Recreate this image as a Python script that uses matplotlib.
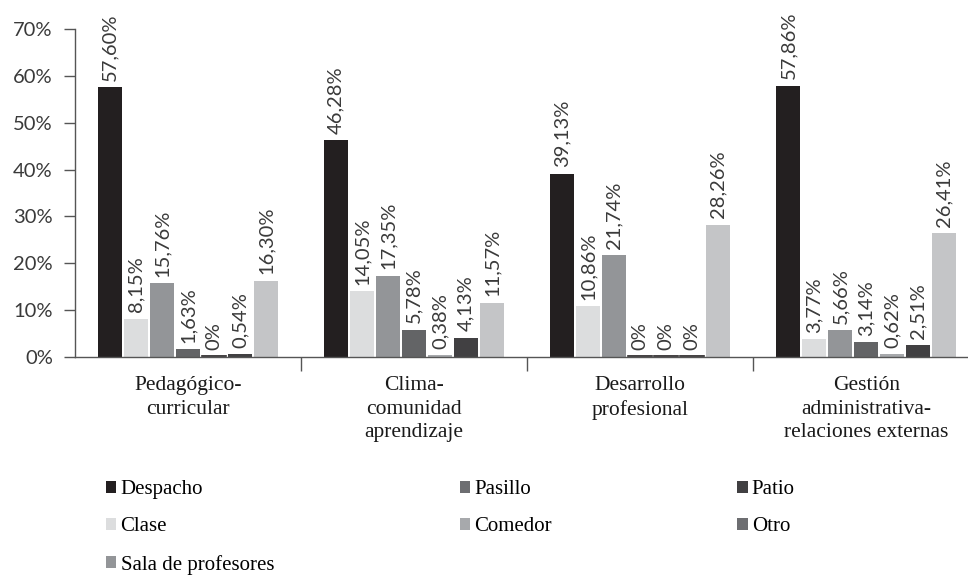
import matplotlib.pyplot as plt
from matplotlib.patches import Patch
import numpy as np

# dimensions (x axis) and places where the conversations happen (series)
dimensions = ['Pedagógico-\ncurricular', 'Clima-\ncomunidad\naprendizaje',
              'Desarrollo\nprofesional', 'Gestión\nadministrativa-\nrelaciones externas']
places = ['Despacho', 'Clase', 'Sala de profesores', 'Pasillo', 'Comedor', 'Patio', 'Otro']

despacho = [57.60, 46.28, 39.13, 57.86]
clase = [8.15, 14.05, 10.86, 3.77]
sala = [15.76, 17.35, 21.74, 5.66]
pasillo = [1.63, 5.78, 0.0, 3.14]
comedor = [0.0, 0.38, 0.0, 0.62]
patio = [0.54, 4.13, 0.0, 2.51]
otro = [16.30, 11.57, 28.26, 26.41]
series = [despacho, clase, sala, pasillo, comedor, patio, otro]

bar_colors = ['#231f20', '#dcddde', '#939598', '#636466', '#a7a9ac', '#414042', '#c4c5c7']
legend_colors = ['#231f20', '#dcddde', '#939598', '#6d6e71', '#a7a9ac', '#414042', '#6d6e71']

yticks = [0, 10, 20, 30, 40, 50, 60, 70]
ytick_labels = ['0%', '10%', '20%', '30%', '40%', '50%', '60%', '70%']

sans = {'family': 'Lato', 'weight': 'normal'}
serif = 'Liberation Serif'

fig = plt.figure(figsize=(9.68, 5.8), dpi=100)
ax = fig.add_axes([75/968, 223/580, 1 - 75/968, 328/580])

x = np.arange(len(dimensions))
slot = 0.115
width = 0.106
for i, (vals, col) in enumerate(zip(series, bar_colors)):
    pos = x + (i - 3) * slot
    ax.bar(pos, vals, width, color=col, label=places[i])
    for px, v in zip(pos, vals):
        txt = '0%' if v == 0 else f'{v:.2f}%'.replace('.', ',')
        # zero values still show a hairline at the baseline
        if v == 0:
            ax.plot([px - width/2, px + width/2], [0.15, 0.15], color='#231f20', lw=1.2)
        ax.text(px, v + 1.4, txt, rotation=90, ha='center', va='bottom',
                fontsize=14.5, color='#3a3a3a', clip_on=False, **sans)

ax.set_xlim(-0.5, 3.45)
ax.set_ylim(0, 70)

ax.set_yticks(yticks)
ax.set_yticklabels(ytick_labels, fontsize=14.5, color='#3a3a3a', **sans)
ax.tick_params(axis='y', length=8, width=1, color='#555555', pad=8)

ax.set_xticks(x)
ax.set_xticklabels(dimensions, family=serif, fontsize=15.5,
                   linespacing=1.3, color='#1a1a1a')
ax.tick_params(axis='x', which='major', length=0, pad=14)
ax.set_xticks([0.5, 1.5, 2.5], minor=True)
ax.tick_params(axis='x', which='minor', length=10, width=1, color='#555555')

for side in ['top', 'right']:
    ax.spines[side].set_visible(False)
for side in ['left', 'bottom']:
    ax.spines[side].set_color('#555555')
    ax.spines[side].set_linewidth(1)

handles = [Patch(facecolor=c, edgecolor='none') for c in legend_colors]
fig.legend(handles, places, loc='upper left', bbox_to_anchor=(106/968, 1 - 480/580),
           ncol=3, frameon=False, prop={'family': serif, 'size': 15},
           handlelength=0.5, handleheight=0.5, handletextpad=0.2,
           columnspacing=8.9, labelspacing=0.88, borderpad=0, borderaxespad=0)

fig.savefig('out.png', dpi=100)
